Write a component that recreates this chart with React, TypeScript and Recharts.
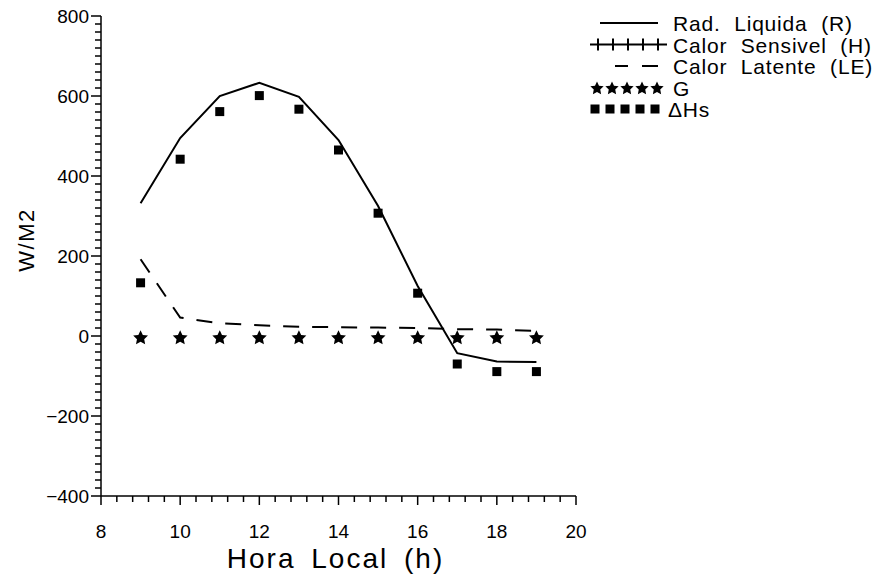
import React from 'react';
import { ComposedChart, Line, XAxis, YAxis, Legend } from 'recharts';

// Hora local (h)
const horas = [9, 10, 11, 12, 13, 14, 15, 16, 17, 18, 19];
// Saldo de radiação (W/m2)
const radLiquida = [332, 495, 600, 633, 598, 490, 325, 125, -43, -64, -65];
// Calor sensível: sem medições válidas no período
const calorSensivel: (number | null)[] = [null, null, null, null, null, null, null, null, null, null, null];
// Calor latente (W/m2)
const calorLatente = [192, 46, 32, 27, 23, 22, 21, 20, 17, 16, 13];
// Fluxo de calor no solo (W/m2)
const fluxoG = [-5, -5, -5, -5, -5, -5, -5, -5, -5, -5, -5];
// Variação do armazenamento (W/m2)
const deltaHs = [133, 442, 561, 601, 567, 465, 307, 107, -70, -89, -89];

const xMajorTicks = [8, 10, 12, 14, 16, 18, 20];
const yMajorTicks = [-400, -200, 0, 200, 400, 600, 800];

// minor subdivisions: 5 per major interval on x, 10 on y
const xTicks: number[] = [];
for (let i = 0; i <= 30; i++) xTicks.push(Math.round((8 + i * 0.4) * 10) / 10);
const yTicks: number[] = [];
for (let v = -400; v <= 800; v += 20) yTicks.push(v);

const dados = horas.map((h, i) => ({
  hora: h,
  R: radLiquida[i],
  H: calorSensivel[i],
  LE: calorLatente[i],
  G: fluxoG[i],
  dHs: deltaHs[i],
}));

const FONTE = '"Liberation Sans", Arial, sans-serif';

const pontosEstrela = (cx: number, cy: number, r: number, ri: number) => {
  const pts: string[] = [];
  for (let k = 0; k < 10; k++) {
    const ang = -Math.PI / 2 + (k * Math.PI) / 5;
    const rr = k % 2 === 0 ? r : ri;
    pts.push(`${cx + rr * Math.cos(ang)},${cy + rr * Math.sin(ang)}`);
  }
  return pts.join(' ');
};

const Estrela = (props: any) => {
  const { cx, cy, index } = props;
  if (cx == null || cy == null) return <g key={`e-${index}`} />;
  return <polygon key={`e-${index}`} points={pontosEstrela(cx, cy, 7.8, 3.8)} fill="#000" />;
};

const Quadrado = (props: any) => {
  const { cx, cy, index } = props;
  if (cx == null || cy == null) return <g key={`q-${index}`} />;
  return <rect key={`q-${index}`} x={cx - 4.5} y={cy - 4.5} width={9} height={9} fill="#000" />;
};

const fmt = (v: number) => (v < 0 ? `\u2212${Math.abs(v)}` : `${v}`);

const TickX = (props: any) => {
  const { x, y, payload } = props;
  const v = payload.value;
  const major = xMajorTicks.includes(v);
  return (
    <g>
      <line x1={x} x2={x} y1={y} y2={y + (major ? 9 : 6)} stroke="#000" strokeWidth={1.5} />
      {major && (
        <text x={x} y={y + 42} textAnchor="middle" fontSize={19} fontFamily={FONTE} fill="#000">
          {v}
        </text>
      )}
    </g>
  );
};

const TickY = (props: any) => {
  const { x, y, payload } = props;
  const v = payload.value;
  const major = yMajorTicks.includes(v);
  return (
    <g>
      <line x1={x - (major ? 10 : 6)} x2={x} y1={y} y2={y} stroke="#000" strokeWidth={1.5} />
      {major && (
        <text x={x - 12} y={y + 7} textAnchor="end" fontSize={19} fontFamily={FONTE} fill="#000">
          {fmt(v)}
        </text>
      )}
    </g>
  );
};

const Legenda = () => {
  const textoX = 83;
  const base = [31, 52.5, 74, 95.5, 117];
  const meio = base.map((b) => b - 8);
  const txt = (i: number, s: string, x = textoX) => (
    <text x={x} y={base[i]} fontSize={21} fontFamily={FONTE} letterSpacing={0.8} wordSpacing={7} fill="#000">
      {s}
    </text>
  );
  return (
    <svg width={291} height={125} style={{ display: 'block', overflow: 'visible' }}>
      <line x1={10} x2={68} y1={meio[0]} y2={meio[0]} stroke="#000" strokeWidth={2} />
      {txt(0, 'Rad. Liquida (R)')}
      <line x1={0} x2={77} y1={meio[1]} y2={meio[1]} stroke="#000" strokeWidth={2} />
      {[8, 23, 38, 53, 68].map((px) => (
        <line key={px} x1={px} x2={px} y1={meio[1] - 6} y2={meio[1] + 6} stroke="#000" strokeWidth={2} />
      ))}
      {txt(1, 'Calor Sensivel (H)')}
      <line x1={25} x2={38} y1={meio[2]} y2={meio[2]} stroke="#000" strokeWidth={2} />
      <line x1={52} x2={68} y1={meio[2]} y2={meio[2]} stroke="#000" strokeWidth={2} />
      {txt(2, 'Calor Latente (LE)')}
      {[7, 22, 37, 52, 67].map((px) => (
        <polygon key={px} points={pontosEstrela(px, meio[3] + 1, 7, 3.4)} fill="#000" />
      ))}
      {txt(3, 'G')}
      {[5, 20, 35, 50, 65].map((px) => (
        <rect key={px} x={px - 4.5} y={meio[4] - 4.5} width={9} height={9} fill="#000" />
      ))}
      {txt(4, '\u0394Hs', 78)}
    </svg>
  );
};

export default function App() {
  return (
    <div style={{ position: 'absolute', left: 0, top: 0, width: 881, height: 577, background: '#fff' }}>
      <ComposedChart
        width={881}
        height={577}
        data={dados}
        margin={{ top: 16, right: 305, bottom: 0, left: 0 }}
      >
        <XAxis
          dataKey="hora"
          type="number"
          domain={[8, 20]}
          ticks={xTicks}
          interval={0}
          height={81}
          tickSize={0}
          tickMargin={0}
          tickLine={false}
          tick={<TickX />}
          axisLine={{ stroke: '#000', strokeWidth: 1.5 }}
          allowDataOverflow
          label={{
            content: (p: any) => {
              const vb = p.viewBox || { x: 101, width: 475 };
              return (
                <text
                  x={vb.x + vb.width / 2 - 3}
                  y={568}
                  textAnchor="middle"
                  fontSize={28}
                  fontFamily={FONTE}
                  letterSpacing={2}
                  wordSpacing={6}
                  fill="#000"
                >
                  Hora Local (h)
                </text>
              );
            },
          }}
        />
        <YAxis
          type="number"
          domain={[-400, 800]}
          ticks={yTicks}
          interval={0}
          width={101}
          tickSize={0}
          tickMargin={0}
          tickLine={false}
          tick={<TickY />}
          axisLine={{ stroke: '#000', strokeWidth: 1.5 }}
          allowDataOverflow
          label={{
            content: (p: any) => {
              const vb = p.viewBox || { y: 16, height: 480 };
              const cy = vb.y + vb.height / 2 - 16;
              return (
                <text
                  transform={`translate(26, ${cy}) rotate(-90)`}
                  textAnchor="middle"
                  dominantBaseline="central"
                  fontSize={22}
                  fontFamily={FONTE}
                  letterSpacing={1.5}
                  fill="#000"
                >
                  W/M2
                </text>
              );
            },
          }}
        />
        <Legend
          layout="horizontal"
          verticalAlign="middle"
          align="center"
          content={() => <Legenda />}
          wrapperStyle={{ left: 590, top: 0, width: 291, height: 125 }}
        />
        <Line dataKey="R" name="Rad. Liquida (R)" type="linear" stroke="#000" strokeWidth={2} dot={false} isAnimationActive={false} />
        <Line dataKey="H" name="Calor Sensivel (H)" type="linear" stroke="#000" strokeWidth={2} dot={false} isAnimationActive={false} />
        <Line
          dataKey="LE"
          name="Calor Latente (LE)"
          type="linear"
          stroke="#000"
          strokeWidth={2}
          strokeDasharray="16 13"
          dot={false}
          isAnimationActive={false}
        />
        <Line dataKey="G" name="G" stroke="none" dot={<Estrela />} activeDot={false} isAnimationActive={false} />
        <Line dataKey="dHs" name="ΔHs" stroke="none" dot={<Quadrado />} activeDot={false} isAnimationActive={false} />
      </ComposedChart>
    </div>
  );
}
